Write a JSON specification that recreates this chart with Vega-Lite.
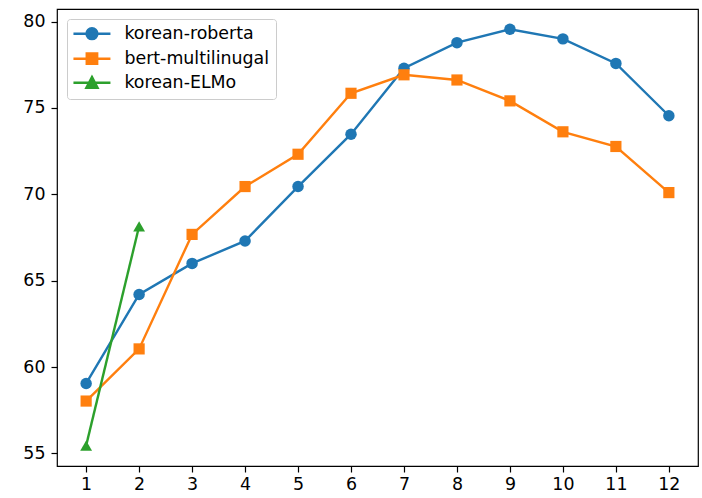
{
  "$schema": "https://vega.github.io/schema/vega-lite/v6.json",
  "width": 641,
  "height": 457,
  "autosize": {"type": "none"},
  "padding": {"left": 57, "top": 9, "right": 4, "bottom": 32},
  "background": "white",
  "config": {
    "font": "DejaVu Sans",
    "view": {"stroke": "black", "strokeWidth": 1.2},
    "axis": {
      "grid": false,
      "domain": false,
      "tickColor": "black",
      "tickSize": 6,
      "tickWidth": 1.2,
      "labelColor": "black",
      "labelFontSize": 17.4,
      "labelFont": "DejaVu Sans",
      "title": null
    },
    "axisX": {"labelPadding": 3},
    "axisY": {"labelPadding": 6}
  },
  "data": {
    "values": [
      {"layer": 1, "score": 59.05, "series": "korean-roberta"},
      {"layer": 2, "score": 64.2, "series": "korean-roberta"},
      {"layer": 3, "score": 66.0, "series": "korean-roberta"},
      {"layer": 4, "score": 67.3, "series": "korean-roberta"},
      {"layer": 5, "score": 70.45, "series": "korean-roberta"},
      {"layer": 6, "score": 73.48, "series": "korean-roberta"},
      {"layer": 7, "score": 77.3, "series": "korean-roberta"},
      {"layer": 8, "score": 78.78, "series": "korean-roberta"},
      {"layer": 9, "score": 79.56, "series": "korean-roberta"},
      {"layer": 10, "score": 79.0, "series": "korean-roberta"},
      {"layer": 11, "score": 77.58, "series": "korean-roberta"},
      {"layer": 12, "score": 74.55, "series": "korean-roberta"},
      {"layer": 1, "score": 58.03, "series": "bert-multilinugal"},
      {"layer": 2, "score": 61.05, "series": "bert-multilinugal"},
      {"layer": 3, "score": 67.68, "series": "bert-multilinugal"},
      {"layer": 4, "score": 70.45, "series": "bert-multilinugal"},
      {"layer": 5, "score": 72.32, "series": "bert-multilinugal"},
      {"layer": 6, "score": 75.85, "series": "bert-multilinugal"},
      {"layer": 7, "score": 76.92, "series": "bert-multilinugal"},
      {"layer": 8, "score": 76.62, "series": "bert-multilinugal"},
      {"layer": 9, "score": 75.41, "series": "bert-multilinugal"},
      {"layer": 10, "score": 73.62, "series": "bert-multilinugal"},
      {"layer": 11, "score": 72.77, "series": "bert-multilinugal"},
      {"layer": 12, "score": 70.1, "series": "bert-multilinugal"},
      {"layer": 1, "score": 55.45, "series": "korean-ELMo"},
      {"layer": 2, "score": 68.15, "series": "korean-ELMo"}
    ]
  },
  "encoding": {
    "x": {
      "field": "layer",
      "type": "quantitative",
      "scale": {"domain": [0.45, 12.55], "nice": false, "zero": false},
      "axis": {"values": [1,2,3,4,5,6,7,8,9,10,11,12], "format": "d", "labelFlush": false}
    },
    "y": {
      "field": "score",
      "type": "quantitative",
      "scale": {"domain": [54.27, 80.73], "nice": false, "zero": false},
      "axis": {"values": [55, 60, 65, 70, 75, 80], "format": "d", "labelFlush": false}
    },
    "color": {
      "field": "series",
      "type": "nominal",
      "sort": ["korean-roberta", "bert-multilinugal", "korean-ELMo"],
      "scale": {
        "domain": ["korean-roberta", "bert-multilinugal", "korean-ELMo"],
        "range": ["#1f77b4", "#ff7f0e", "#2ca02c"]
      },
      "legend": {
        "title": null,
        "orient": "none",
        "legendX": 10,
        "legendY": 10,
        "padding": 6,
        "fillColor": "rgba(255,255,255,0.8)",
        "strokeColor": "#cccccc",
        "cornerRadius": 3,
        "labelFontSize": 17.4,
        "labelFont": "DejaVu Sans",
        "labelColor": "black",
        "labelOffset": 34,
        "rowPadding": 3,
        "symbolSize": 144,
        "symbolStrokeWidth": 1.5,
        "symbolOpacity": 1,
        "encode": {
          "symbols": {
            "update": {
              "shape": {"signal": "datum.value === 'korean-roberta' ? 'M-1.375,0H4.79M0.81,0A0.9,0.9 0 1,0 2.61,0A0.9,0.9 0 1,0 0.81,0Z' : datum.value === 'bert-multilinugal' ? 'M-1.375,0H4.79M0.85,-0.86H2.57V0.86H0.85Z' : 'M-1.375,0H4.79M1.71,-0.92L2.63,0.86H0.79Z'"},
              "fill": {"scale": "color", "field": "value"},
              "stroke": {"scale": "color", "field": "value"},
              "strokeWidth": {"value": 2.5},
              "opacity": {"value": 1}
            }
          }
        }
      }
    }
  },
  "layer": [
    {
      "mark": {"type": "line", "strokeWidth": 2.4, "clip": true}
    },
    {
      "transform": [{"filter": "datum.series === 'korean-roberta'"}],
      "mark": {"type": "point", "shape": "circle", "filled": true, "opacity": 1, "size": 132, "clip": true}
    },
    {
      "transform": [{"filter": "datum.series === 'bert-multilinugal'"}],
      "mark": {"type": "point", "shape": "square", "filled": true, "opacity": 1, "size": 125, "clip": true}
    },
    {
      "transform": [{"filter": "datum.series === 'korean-ELMo'"}],
      "mark": {"type": "point", "shape": "triangle-up", "filled": true, "opacity": 1, "size": 140, "clip": true}
    }
  ]
}
